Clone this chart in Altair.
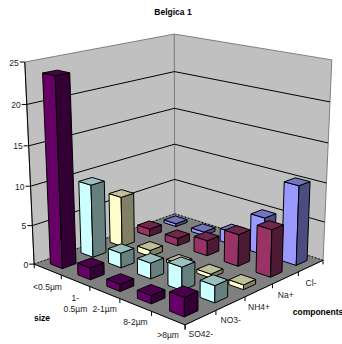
import altair as alt
import numpy as np

# Chart content
title = "Belgica 1"
size_axis_title = "size"
component_axis_title = "components"
sizes = [["<0.5µm"], ["1-", "0.5µm"], ["2-1µm"], ["8-2µm"], [">8µm"]]
components = ["SO42-", "NO3-", "NH4+", "Na+", "Cl-"]
colors = ["#660066", "#CCFFFF", "#FFFFCC", "#993366", "#9999FF"]
value_ticks = [0, 5, 10, 15, 20, 25]

# One list per component, in the order of the size classes
so4 = [23.7, 1.5, 0.9, 1.0, 2.3]
no3 = [9.4, 1.9, 2.0, 2.9, 2.1]
nh4 = [6.6, 0.8, 0.4, 0.5, 0.6]
na = [1.0, 1.0, 2.0, 4.1, 6.0]
cl = [0.4, 0.5, 1.7, 4.9, 10.2]
series = [so4, no3, nh4, na, cl]

VALUE_MAX = 25.0
BAR_FRACTION = 0.44


def fit_camera():
    """Solve the 3x4 perspective camera of the box from its visible corners."""
    world = [(0, 0, 0), (1, 0, 0), (1, 1, 0), (0, 1, 0), (0, 1, 1), (0, 0, 1), (1, 1, 1)]
    screen = [(34, 264), (185, 325), (323, 260), (175, 214), (174, 34), (25, 62), (332, 60)]
    rows, rhs = [], []
    for (a, b, c), (x, y) in zip(world, screen):
        rows.append([a, b, c, 1, 0, 0, 0, 0, -x * a, -x * b, -x * c])
        rhs.append(x)
        rows.append([0, 0, 0, 0, a, b, c, 1, -y * a, -y * b, -y * c])
        rhs.append(y)
    m = np.linalg.lstsq(np.array(rows, float), np.array(rhs, float), rcond=None)[0]
    return np.append(m, 1.0).reshape(3, 4)


CAMERA = fit_camera()


def project(u, v, h):
    p = CAMERA @ np.array([u, v, h, 1.0])
    return [float(p[0] / p[2]), float(p[1] / p[2])]


def shade(hex_color, k):
    rgb = [int(hex_color[n:n + 2], 16) for n in (1, 3, 5)]
    return "#" + "".join(f"{round(c * k):02x}" for c in rgb)


def polygon(points, fill, stroke="#000000"):
    ring = [project(*p) for p in points]
    ring.append(ring[0])
    return {
        "type": "Feature",
        "geometry": {"type": "Polygon", "coordinates": [ring]},
        "properties": {"fill": fill, "stroke": stroke},
    }


def polyline(coordinates, stroke="#000000"):
    return {
        "type": "Feature",
        "geometry": {"type": "LineString", "coordinates": coordinates},
        "properties": {"fill": "transparent", "stroke": stroke},
    }


def segment(a, b, stroke="#000000"):
    return polyline([project(*a), project(*b)], stroke)


# Walls and floor
back = [
    polygon([(0, 1, 0), (0, 0, 0), (0, 0, 1), (0, 1, 1)], "#C0C0C0", "#808080"),
    polygon([(0, 1, 0), (1, 1, 0), (1, 1, 1), (0, 1, 1)], "#C0C0C0", "#808080"),
    polygon([(0, 0, 0), (1, 0, 0), (1, 1, 0), (0, 1, 0)], "#808080", "#808080"),
]

# Gridlines on both walls
for t in value_ticks[1:-1]:
    h = t / VALUE_MAX
    back.append(segment((0, 0, h), (0, 1, h)))
    back.append(segment((0, 1, h), (1, 1, h)))

# Dotted seams where the walls meet the floor
seams = [segment((0, 0, 0), (0, 1, 0)), segment((0, 1, 0), (1, 1, 0))]

# Bars, painted from the back corner forward
bars = []
half = BAR_FRACTION / 10
for j in range(4, -1, -1):
    for i in range(5):
        color = colors[j]
        val = series[j][i] / VALUE_MAX
        u0, u1 = (i + 0.5) / 5 - half, (i + 0.5) / 5 + half
        v0, v1 = (j + 0.5) / 5 - half, (j + 0.5) / 5 + half
        bars.append(polygon([(u0, v0, 0), (u1, v0, 0), (u1, v0, val), (u0, v0, val)], shade(color, 1.0)))
        bars.append(polygon([(u1, v0, 0), (u1, v1, 0), (u1, v1, val), (u1, v0, val)], shade(color, 0.5)))
        bars.append(polygon([(u0, v0, val), (u1, v0, val), (u1, v1, val), (u0, v1, val)], shade(color, 0.75)))

# Axis lines and ticks
axes = [
    segment((0, 0, 0), (0, 0, 1)),
    segment((0, 0, 0), (1, 0, 0)),
    segment((1, 0, 0), (1, 1, 0)),
]
VALUE_TICK = 5
for t in value_ticks:
    x, y = project(0, 0, t / VALUE_MAX)
    axes.append(polyline([[x - VALUE_TICK, y], [x, y]]))
for n in range(6):
    axes.append(segment((n / 5, 0, 0), (n / 5, 0, -0.022)))
    axes.append(segment((1, n / 5, 0), (1, n / 5, -0.022)))

value_rows = []
for t in value_ticks:
    x, y = project(0, 0, t / VALUE_MAX)
    value_rows.append({"lon": x - VALUE_TICK - 1, "lat": y + 0.5, "text": str(t)})

LABEL_DROP = 17
LINE_STEP = 11
axis_rows = []
for i, lines in enumerate(sizes):
    x, y = project((i + 0.5) / 5, 0, 0)
    for k, line in enumerate(lines):
        axis_rows.append({"lon": x, "lat": y + LABEL_DROP + k * LINE_STEP, "text": line})
for j, name in enumerate(components):
    x, y = project(1, (j + 0.5) / 5, 0)
    axis_rows.append({"lon": x, "lat": y + LABEL_DROP, "text": name})

# Chart title and the two floor-axis titles
name_rows = [
    {"lon": 173, "lat": 12, "text": title},
    {"lon": 42, "lat": 318, "text": size_axis_title},
    {"lon": 318, "lat": 312, "text": component_axis_title},
]

identity = dict(type="identity", scale=1, translate=[0, 0])
text_style = dict(font="Liberation Sans", fontSize=8.5, baseline="middle")


def shape_layer(features, **mark):
    return (
        alt.Chart(alt.Data(values=features))
        .mark_geoshape(strokeWidth=1, **mark)
        .encode(
            fill=alt.Fill("properties.fill:N", scale=None),
            stroke=alt.Stroke("properties.stroke:N", scale=None),
        )
        .project(**identity)
    )


def text_layer(rows, **mark):
    return (
        alt.Chart(alt.Data(values=rows))
        .mark_text(**text_style, **mark)
        .encode(longitude="lon:Q", latitude="lat:Q", text="text:N")
        .project(**identity)
    )


chart = (
    alt.layer(
        shape_layer(back),
        shape_layer(seams, strokeDash=[1.5, 2]),
        shape_layer(bars, strokeJoin="round"),
        shape_layer(axes),
        text_layer(value_rows, color="#222222", align="right"),
        text_layer(axis_rows, color="#222222", align="center"),
        text_layer(name_rows, color="#000000", align="center", fontWeight="bold"),
    )
    .properties(width=342, height=344, padding=0, autosize=alt.AutoSizeParams(type="none"), background="#FFFFFF")
    .configure_view(stroke=None)
)

chart.save("out.html", embed_options={"renderer": "svg", "actions": False})
